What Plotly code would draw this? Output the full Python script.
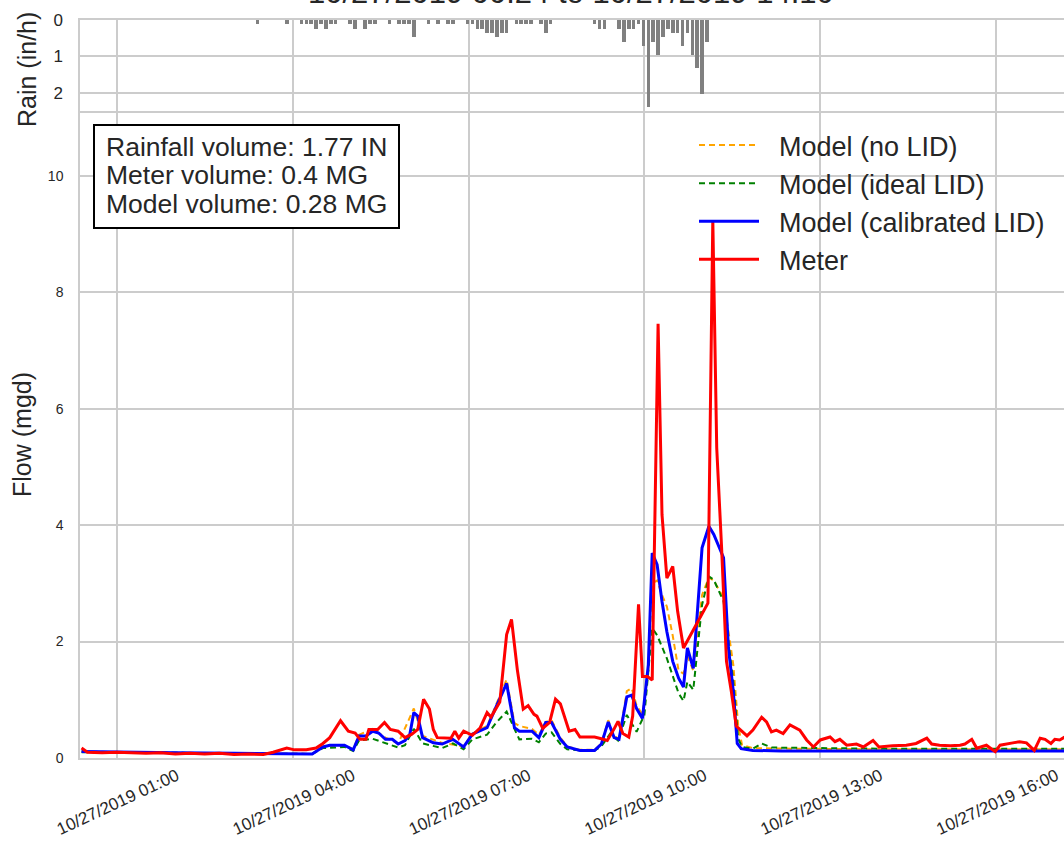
import pandas as pd
import plotly.graph_objects as go

DATE = "2019-10-27"

# ---------------- data ----------------
rain_start = "03:24"
rain_in_per_h = [
    0.12, 0, 0, 0, 0, 0, 0.12, 0, 0, 0.12,
    0.12, 0.12, 0.24, 0.12, 0.24, 0.12, 0.12, 0, 0, 0.12,
    0.24, 0, 0.24, 0.12, 0.12, 0, 0, 0.12, 0, 0.12,
    0.12, 0.12, 0.48, 0, 0, 0.12, 0, 0.12, 0, 0.12,
    0.12, 0, 0, 0.12, 0.12, 0.24, 0.24, 0.36, 0.36, 0.48,
    0.36, 0.36, 0, 0.12, 0.12, 0.12, 0.12, 0, 0.12, 0.36,
    0.12, 0, 0, 0, 0, 0, 0, 0, 0, 0.12,
    0.24, 0.24, 0, 0, 0.24, 0.6, 0.24, 0.24, 0.12, 0.72,
    2.4, 0.6, 0.96, 0.48, 0.24, 0.36, 0.36, 0.72, 0.36, 0.96,
    1.32, 2.04, 0.6,
]

meter_t = ["00:24", "00:30", "00:45", "01:00", "01:15", "01:30", "01:45", "02:00", "02:15", "02:30",
           "02:45", "03:00", "03:15", "03:30", "03:40", "03:47", "03:54", "04:02", "04:14", "04:24",
           "04:31", "04:38", "04:44", "04:49", "04:57", "05:04", "05:09", "05:15", "05:18", "05:27",
           "05:34", "05:40", "05:48", "05:55", "06:02", "06:08", "06:14", "06:20", "06:24", "06:28",
           "06:42", "06:46", "06:50", "06:55", "07:04", "07:12", "07:19", "07:23", "07:32", "07:39",
           "07:44", "07:50", "07:56", "08:01", "08:07", "08:10", "08:16", "08:23", "08:29", "08:34",
           "08:43", "08:49", "08:54", "09:09", "09:16", "09:22", "09:29", "09:33", "09:38", "09:44",
           "09:48", "09:54", "09:58", "10:03", "10:08", "10:14", "10:18", "10:23", "10:29", "10:34",
           "10:40", "10:47", "10:57", "11:05", "11:10", "11:14", "11:19", "11:24", "11:29", "11:34",
           "11:45", "11:51", "12:00", "12:05", "12:10", "12:15", "12:22", "12:29", "12:39", "12:46",
           "12:53", "13:00", "13:10", "13:15", "13:20", "13:27", "13:37", "13:44", "13:54", "14:00",
           "14:14", "14:28", "14:38", "14:49", "14:54", "15:02", "15:13", "15:23", "15:28", "15:35",
           "15:40", "15:50", "15:59", "16:04", "16:17", "16:24", "16:31", "16:39", "16:45", "16:50",
           "16:56", "17:00", "17:05", "17:10"]
meter_q = [0.17, 0.10, 0.09, 0.10, 0.09, 0.08, 0.09, 0.07, 0.08, 0.07,
           0.08, 0.06, 0.07, 0.06, 0.10, 0.14, 0.17, 0.14, 0.14, 0.17,
           0.25, 0.35, 0.50, 0.64, 0.46, 0.43, 0.32, 0.32, 0.49, 0.49,
           0.61, 0.49, 0.46, 0.35, 0.41, 0.49, 1.01, 0.84, 0.49, 0.35,
           0.34, 0.46, 0.34, 0.46, 0.39, 0.52, 0.78, 0.70, 0.96, 2.12,
           2.38, 1.51, 0.84, 0.90, 0.75, 0.72, 0.51, 0.61, 1.01, 0.93,
           0.46, 0.49, 0.36, 0.36, 0.33, 0.30, 0.50, 0.63, 0.42, 0.36,
           0.72, 2.64, 1.40, 1.40, 1.34, 7.46, 4.18, 3.09, 3.29, 2.52,
           1.89, 2.11, 2.40, 2.66, 9.24, 5.33, 3.61, 1.66, 1.14, 0.55,
           0.38, 0.48, 0.70, 0.62, 0.45, 0.48, 0.42, 0.57, 0.48, 0.31,
           0.19, 0.31, 0.36, 0.28, 0.32, 0.22, 0.24, 0.19, 0.30, 0.19,
           0.21, 0.22, 0.25, 0.34, 0.24, 0.22, 0.21, 0.22, 0.24, 0.32,
           0.17, 0.22, 0.11, 0.22, 0.26, 0.28, 0.26, 0.13, 0.34, 0.32,
           0.25, 0.32, 0.31, 0.36]

cal_t = ["00:24", "01:00", "02:00", "03:00", "04:00", "04:20", "04:31", "04:38", "04:53", "05:02",
         "05:08", "05:15", "05:22", "05:28", "05:35", "05:42", "05:48", "05:55", "06:00", "06:04",
         "06:08", "06:13", "06:24", "06:33", "06:44", "06:55", "07:04", "07:19", "07:28", "07:39",
         "07:47", "07:52", "08:05", "08:12", "08:19", "08:25", "08:34", "08:41", "08:54", "09:09",
         "09:16", "09:23", "09:29", "09:34", "09:42", "09:47", "09:52", "09:58", "10:04", "10:08",
         "10:13", "10:18", "10:23", "10:29", "10:35", "10:40", "10:44", "10:50", "10:59", "11:06",
         "11:11", "11:21", "11:26", "11:31", "11:35", "11:39", "11:51", "12:20", "13:00", "14:00",
         "15:00", "16:00", "17:10"]
cal_q = [0.11, 0.10, 0.09, 0.08, 0.07, 0.07, 0.19, 0.22, 0.22, 0.14,
         0.38, 0.38, 0.46, 0.43, 0.32, 0.32, 0.24, 0.30, 0.41, 0.78,
         0.72, 0.35, 0.26, 0.24, 0.32, 0.19, 0.41, 0.52, 0.87, 1.28,
         0.52, 0.46, 0.46, 0.35, 0.61, 0.61, 0.32, 0.19, 0.13, 0.13,
         0.24, 0.62, 0.35, 0.32, 1.05, 1.08, 0.85, 0.68, 1.60, 3.52,
         3.32, 2.69, 2.17, 1.66, 1.37, 1.22, 1.89, 1.54, 3.61, 3.98,
         3.84, 3.44, 1.89, 1.14, 0.25, 0.16, 0.13, 0.12, 0.12, 0.12,
         0.12, 0.12, 0.12]

nolid_t = ["00:24", "01:00", "02:00", "03:00", "04:00", "04:20", "04:31", "04:53", "05:02", "05:08",
           "05:22", "05:35", "05:48", "06:04", "06:13", "06:33", "06:55", "07:04", "07:19", "07:28",
           "07:39", "07:47", "07:52", "08:05", "08:12", "08:19", "08:25", "08:34", "08:41", "08:54",
           "09:09", "09:16", "09:23", "09:29", "09:34", "09:42", "09:47", "09:52", "09:58", "10:04",
           "10:08", "10:13", "10:18", "10:23", "10:29", "10:35", "10:40", "10:44", "10:50", "10:59",
           "11:06", "11:11", "11:21", "11:31", "11:36", "11:40", "11:51", "12:30", "14:00", "16:00",
           "17:10"]
nolid_q = [0.11, 0.10, 0.09, 0.08, 0.07, 0.07, 0.20, 0.22, 0.15, 0.40,
           0.50, 0.35, 0.25, 0.85, 0.38, 0.26, 0.20, 0.42, 0.55, 0.90,
           1.35, 0.60, 0.55, 0.50, 0.40, 0.62, 0.65, 0.35, 0.20, 0.14,
           0.14, 0.25, 0.65, 0.38, 0.33, 1.15, 1.20, 0.90, 0.75, 1.50,
           3.00, 3.05, 2.80, 2.60, 2.10, 1.50, 1.45, 1.75, 1.50, 2.80,
           3.10, 3.05, 2.75, 1.60, 0.55, 0.22, 0.17, 0.16, 0.15, 0.15,
           0.15]

ideal_t = ["00:24", "01:00", "02:00", "03:00", "04:00", "04:20", "04:31", "04:53", "05:02", "05:08",
           "05:22", "05:35", "05:48", "05:55", "06:04", "06:13", "06:24", "06:33", "06:44", "06:55",
           "07:04", "07:19", "07:28", "07:39", "07:47", "07:52", "08:05", "08:12", "08:19", "08:25",
           "08:34", "08:41", "08:54", "09:09", "09:16", "09:25", "09:33", "09:42", "09:52", "10:00",
           "10:08", "10:13", "10:23", "10:35", "10:40", "10:44", "10:50", "10:59", "11:06", "11:11",
           "11:21", "11:31", "11:36", "11:40", "11:51", "12:00", "12:10", "13:00", "14:00", "16:00",
           "17:10"]
ideal_q = [0.10, 0.10, 0.09, 0.08, 0.07, 0.07, 0.17, 0.19, 0.12, 0.30,
           0.33, 0.25, 0.18, 0.22, 0.50, 0.25, 0.20, 0.17, 0.25, 0.15,
           0.32, 0.40, 0.60, 0.80, 0.50, 0.32, 0.33, 0.27, 0.42, 0.44,
           0.24, 0.15, 0.13, 0.13, 0.20, 0.42, 0.30, 0.74, 0.45, 0.74,
           2.23, 2.11, 1.71, 1.11, 0.98, 1.31, 1.17, 2.63, 3.12, 3.06,
           2.69, 1.31, 0.33, 0.19, 0.16, 0.25, 0.18, 0.17, 0.16, 0.16,
           0.16]

tick_times = ["01:00", "04:00", "07:00", "10:00", "13:00", "16:00"]
tick_text = ["10/27/2019 " + t for t in tick_times]
flow_ticks = [0, 2, 4, 6, 8, 10]
rain_ticks = [0, 1, 2]

title_text = "10/27/2019 00:24 to 10/27/2019 14:10"
box_lines = ["Rainfall volume: 1.77 IN", "Meter volume: 0.4 MG", "Model volume: 0.28 MG"]
series_names = ["Model (no LID)", "Model (ideal LID)", "Model (calibrated LID)", "Meter"]


def ts(lst):
    return [f"{DATE} {t}" for t in lst]


rain_times = pd.date_range(f"{DATE} {rain_start}", periods=len(rain_in_per_h), freq="5min")

TXT = "#262626"
GRID = "#cccccc"
FONT = "Liberation Sans, Arial, sans-serif"
PAD = "\u00a0\u00a0"  # small gap between legend line sample and label

W, H = 1064, 842
L, R, T, B = 80, 0, 20, 84


def fx(p):  # page x pixel -> paper
    return (p - 80) / 984


def fy(p):  # page y pixel -> paper
    return (758 - p) / 738


fig = go.Figure()
fig.add_trace(go.Bar(x=rain_times, y=rain_in_per_h, xaxis="x2", yaxis="y2",
                     marker=dict(color="#808080", line=dict(width=0)), width=220000,
                     showlegend=False))
fig.add_trace(go.Scatter(x=ts(nolid_t), y=nolid_q, mode="lines", name=PAD + series_names[0],
                         line=dict(color="orange", width=2, dash="6px,4px")))
fig.add_trace(go.Scatter(x=ts(ideal_t), y=ideal_q, mode="lines", name=PAD + series_names[1],
                         line=dict(color="green", width=2, dash="6px,4px")))
fig.add_trace(go.Scatter(x=ts(cal_t), y=cal_q, mode="lines", name=PAD + series_names[2],
                         line=dict(color="blue", width=3)))
fig.add_trace(go.Scatter(x=ts(meter_t), y=meter_q, mode="lines", name=PAD + series_names[3],
                         line=dict(color="red", width=3)))

xrange = [f"{DATE} 00:22:24", f"{DATE} 17:09:24"]

fig.update_layout(
    width=W, height=H,
    margin=dict(l=L, r=R, t=T, b=B, autoexpand=False),
    paper_bgcolor="white", plot_bgcolor="white",
    font=dict(family=FONT, color=TXT),
    bargap=0,
    xaxis=dict(domain=[0, 1], anchor="y", type="date", range=xrange, automargin=False,
               tickvals=ts(tick_times), ticktext=tick_text, tickangle=-25,
               tickfont=dict(size=17, color=TXT), showgrid=True, gridcolor=GRID, gridwidth=1.5,
               showline=True, linecolor=GRID, linewidth=1.5, mirror=True, zeroline=False,
               ticks="", ticklabelshift=60, ticklabelstandoff=0, ticklabeloverflow="allow"),
    yaxis=dict(domain=[0, fy(113)], anchor="x", range=[0, 11.08], tickvals=flow_ticks,
               automargin=False,
               tickfont=dict(size=14, color=TXT), showgrid=True, gridcolor=GRID, gridwidth=1.5,
               showline=True, linecolor=GRID, linewidth=1.5, mirror=False, zeroline=False,
               ticks="", ticklabelstandoff=12),
    xaxis2=dict(domain=[0, 1], anchor="y2", type="date", range=xrange, matches="x",
                automargin=False,
                tickvals=ts(tick_times), showticklabels=False, showgrid=True, gridcolor=GRID,
                gridwidth=1.5, showline=True, linecolor=GRID, linewidth=1.5, mirror=True,
                zeroline=False, ticks=""),
    yaxis2=dict(domain=[fy(111), 1], anchor="x2", range=[2.5, 0], tickvals=rain_ticks,
                automargin=False,
                tickfont=dict(size=17, color=TXT), showgrid=True, gridcolor=GRID, gridwidth=1.5,
                showline=True, linecolor=GRID, linewidth=1.5, mirror=False, zeroline=False,
                ticks="", ticklabelstandoff=12),
    legend=dict(x=fx(694), y=fy(121), xanchor="left", yanchor="top", itemwidth=60,
                bgcolor="rgba(0,0,0,0)", font=dict(size=27, color=TXT)),
)

# title (partly above the page edge, as in the reference)
fig.add_annotation(text=title_text, xref="paper", yref="paper", x=fx(571), y=fy(-7),
                   xanchor="center", yanchor="middle", showarrow=False,
                   font=dict(size=31, color=TXT))
# axis titles
fig.add_annotation(text="Flow (mgd)", xref="paper", yref="paper", x=fx(22), y=fy(435),
                   textangle=-90, xanchor="center", yanchor="middle", showarrow=False,
                   font=dict(size=25, color=TXT))
fig.add_annotation(text="Rain (in/h)", xref="paper", yref="paper", x=fx(27), y=fy(70),
                   textangle=-90, xanchor="center", yanchor="middle", showarrow=False,
                   font=dict(size=25, color=TXT))

# info box
fig.add_shape(type="rect", xref="paper", yref="paper", x0=fx(94), x1=fx(399), y0=fy(228), y1=fy(125),
              line=dict(color="black", width=2), fillcolor="white", layer="above")
for i, line in enumerate(box_lines):
    fig.add_annotation(text=line, xref="paper", yref="paper", x=fx(104), y=fy(147 + 28.3 * i),
                       xanchor="left", yanchor="middle", showarrow=False,
                       font=dict(size=26.5, color=TXT))

# remove the default 8px page margin so the 1064x842 figure fills the window exactly
fig.write_html("out.html", config={"displayModeBar": False},
               post_script="document.body.style.margin='0';document.body.style.overflow='hidden';")
